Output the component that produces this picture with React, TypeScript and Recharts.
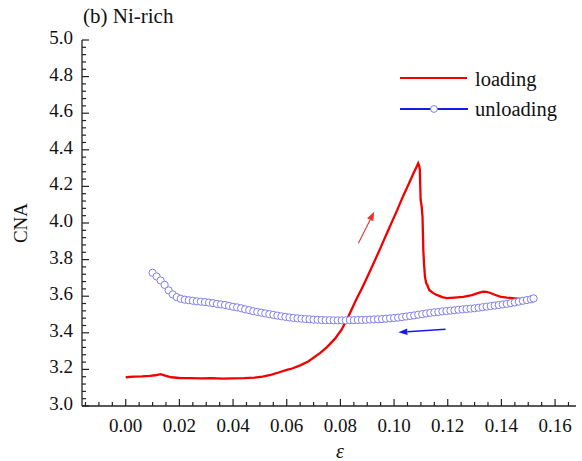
import React from 'react';
import { LineChart, Line, XAxis, YAxis, ReferenceLine } from 'recharts';

const FONT = 'Liberation Serif';

// loading curve (red line)
const loadingStrain = [
  0.0, 0.003, 0.006, 0.009, 0.011, 0.013, 0.015, 0.017, 0.02, 0.024, 0.028, 0.032, 0.036, 0.04,
  0.044, 0.048, 0.051, 0.054, 0.057, 0.06, 0.062, 0.065, 0.068, 0.0725, 0.075, 0.078, 0.0805,
  0.083, 0.086, 0.088, 0.0898, 0.0922, 0.0947, 0.0972, 0.101, 0.1034, 0.1055, 0.1072, 0.1085,
  0.109, 0.1094, 0.1096, 0.1099, 0.1103, 0.1106, 0.1109, 0.1112, 0.1115, 0.112, 0.1124, 0.1131,
  0.1145, 0.1159, 0.118, 0.1196, 0.1225, 0.1258, 0.129, 0.1315, 0.1332, 0.1345, 0.1357, 0.1375,
  0.1395, 0.142, 0.145, 0.1481, 0.15,
];
const loadingCna = [
  3.157, 3.16, 3.162, 3.165, 3.168, 3.174, 3.165, 3.157, 3.153, 3.152, 3.151, 3.152, 3.15, 3.151,
  3.152, 3.155, 3.16, 3.17, 3.183, 3.197, 3.205, 3.222, 3.243, 3.29, 3.322, 3.368, 3.418,
  3.49, 3.585, 3.642, 3.698, 3.774, 3.856, 3.94, 4.065, 4.148, 4.215, 4.27, 4.31,
  4.326, 4.31, 4.29, 4.126, 4.09, 4.034, 3.852, 3.77, 3.707, 3.67, 3.661, 3.634,
  3.618, 3.607, 3.595, 3.589, 3.592, 3.596, 3.606, 3.618, 3.625, 3.624, 3.619, 3.608,
  3.598, 3.592, 3.588, 3.584, 3.582,
];

// unloading curve (open circles)
const unloadingStrain = [
  0.01, 0.0115, 0.013, 0.0145, 0.016, 0.0175, 0.019, 0.0205, 0.022, 0.0235, 0.025, 0.0265, 0.028,
  0.0295, 0.031, 0.0325, 0.034, 0.0355, 0.037, 0.0385, 0.04, 0.0415, 0.043, 0.0445, 0.046, 0.0475,
  0.049, 0.0505, 0.052, 0.0535, 0.055, 0.0565, 0.058, 0.0595, 0.061, 0.0625, 0.064, 0.0655, 0.067,
  0.0685, 0.07, 0.0715, 0.073, 0.0745, 0.076, 0.0775, 0.079, 0.0805, 0.082, 0.0835, 0.085, 0.0865,
  0.088, 0.0895, 0.091, 0.0925, 0.094, 0.0955, 0.097, 0.0985, 0.1, 0.1015, 0.103, 0.1045, 0.106,
  0.1075, 0.109, 0.1105, 0.112, 0.1135, 0.115, 0.1165, 0.118, 0.1195, 0.121, 0.1225, 0.124,
  0.1255, 0.127, 0.1285, 0.13, 0.1315, 0.133, 0.1345, 0.136, 0.1375, 0.139, 0.1405, 0.142, 0.1435,
  0.145, 0.1465, 0.148, 0.1495, 0.151, 0.152,
];
const unloadingCna = [
  3.728, 3.708, 3.686, 3.662, 3.632, 3.61, 3.595, 3.586, 3.581, 3.578, 3.575, 3.572, 3.57,
  3.568, 3.565, 3.562, 3.558, 3.555, 3.552, 3.547, 3.542, 3.539, 3.534, 3.528, 3.524, 3.518,
  3.514, 3.51, 3.506, 3.502, 3.498, 3.494, 3.49, 3.487, 3.484, 3.481, 3.479, 3.477, 3.475,
  3.474, 3.472, 3.471, 3.47, 3.469, 3.469, 3.468, 3.468, 3.468, 3.468, 3.469, 3.469, 3.47,
  3.47, 3.471, 3.472, 3.473, 3.474, 3.475, 3.477, 3.479, 3.481, 3.483, 3.486, 3.489, 3.492,
  3.495, 3.499, 3.502, 3.506, 3.509, 3.512, 3.514, 3.517, 3.519, 3.521, 3.523, 3.526,
  3.528, 3.53, 3.532, 3.534, 3.537, 3.54, 3.543, 3.546, 3.549, 3.552, 3.555, 3.558, 3.562,
  3.566, 3.57, 3.575, 3.579, 3.583, 3.588,
];

// direction arrows [tail, head]
const loadingArrow = [{ x: 0.0867, y: 3.889 }, { x: 0.0926, y: 4.062 }];
const unloadingArrow = [{ x: 0.1192, y: 3.419 }, { x: 0.1016, y: 3.403 }];

const xMajorTicks = [0, 0.02, 0.04, 0.06, 0.08, 0.1, 0.12, 0.14, 0.16];
const yMajorTicks = [3.0, 3.2, 3.4, 3.6, 3.8, 4.0, 4.2, 4.4, 4.6, 4.8, 5.0];
const xDomain = [-0.0163, 0.1678];
const yDomain = [3, 5];

const xAllTicks: number[] = [];
for (let i = -3; i <= 33; i++) xAllTicks.push(Math.round(i * 5) / 1000);
const yAllTicks: number[] = [];
for (let i = 0; i <= 50; i++) yAllTicks.push(Math.round((3 + i * 0.04) * 100) / 100);

const isMajor = (v: number, majors: number[]) => majors.some((m) => Math.abs(m - v) < 1e-6);

const loadingData = loadingStrain.map((x, i) => ({ x, y: loadingCna[i] }));
const unloadingData = unloadingStrain.map((x, i) => ({ x, y: unloadingCna[i] }));

const AXIS = '#222';
const txt = { fontFamily: FONT } as React.CSSProperties;

function XTick({ x, y, payload }: any) {
  const major = isMajor(payload.value, xMajorTicks);
  return (
    <g>
      <line x1={x} x2={x} y1={y} y2={y - (major ? 7 : 4)} stroke={AXIS} strokeWidth={1.2} />
      {major && (
        <text x={x} y={y + 26} textAnchor="middle" fontSize={19} style={txt} fill="#111">
          {payload.value.toFixed(2)}
        </text>
      )}
    </g>
  );
}

function YTick({ x, y, payload }: any) {
  const major = isMajor(payload.value, yMajorTicks);
  return (
    <g>
      <line x1={x} x2={x + (major ? 7 : 4)} y1={y} y2={y} stroke={AXIS} strokeWidth={1.2} />
      {major && (
        <text x={x - 9} y={y + 4} textAnchor="end" fontSize={19} style={txt} fill="#111">
          {payload.value.toFixed(1)}
        </text>
      )}
    </g>
  );
}

function makeArrow(color: string, width: number, headLen: number, headHalf: number) {
  return (props: any) => {
    const { x1, y1, x2, y2 } = props;
    const dx = x2 - x1;
    const dy = y2 - y1;
    const len = Math.sqrt(dx * dx + dy * dy) || 1;
    const ux = dx / len;
    const uy = dy / len;
    const bx = x2 - ux * headLen;
    const by = y2 - uy * headLen;
    const pts = `${x2},${y2} ${bx - uy * headHalf},${by + ux * headHalf} ${bx + uy * headHalf},${by - ux * headHalf}`;
    return (
      <g>
        <line x1={x1} y1={y1} x2={bx} y2={by} stroke={color} strokeWidth={width} />
        <polygon points={pts} fill={color} />
      </g>
    );
  };
}

export default function App() {
  return (
    <div style={{ position: 'absolute', left: 0, top: 0, width: 582, height: 461, background: '#fff', fontFamily: FONT }}>
      <LineChart
        width={582}
        height={461}
        margin={{ top: 40, right: 6, bottom: 0, left: 0 }}
      >
        <XAxis
          dataKey="x"
          type="number"
          domain={xDomain}
          allowDataOverflow
          ticks={xAllTicks}
          interval={0}
          height={55}
          tickSize={0}
          tickMargin={0}
          tickLine={false}
          axisLine={{ stroke: AXIS, strokeWidth: 1.3 }}
          tick={(p: any) => <XTick {...p} />}
          label={(p: any) => {
            const vb = p.viewBox || { x: 82, width: 494 };
            return (
              <text x={vb.x + vb.width / 2 + 11} y={458} textAnchor="middle" fontSize={20} fontStyle="italic" style={txt} fill="#111">
                ε
              </text>
            );
          }}
        />
        <XAxis
          xAxisId="top"
          orientation="top"
          dataKey="x"
          type="number"
          domain={xDomain}
          allowDataOverflow
          height={0}
          tick={false}
          tickLine={false}
          axisLine={{ stroke: AXIS, strokeWidth: 1.3 }}
        />
        <YAxis
          type="number"
          domain={yDomain}
          allowDataOverflow
          ticks={yAllTicks}
          interval={0}
          width={82}
          tickSize={0}
          tickMargin={0}
          tickLine={false}
          axisLine={{ stroke: AXIS, strokeWidth: 1.3 }}
          tick={(p: any) => <YTick {...p} />}
          label={(p: any) => {
            const vb = p.viewBox || { y: 40, height: 366 };
            const cy = vb.y + vb.height / 2;
            return (
              <text x={27} y={cy} transform={`rotate(-90 27 ${cy})`} textAnchor="middle" fontSize={19} style={txt} fill="#111">
                CNA
              </text>
            );
          }}
        />
        <YAxis
          yAxisId="right"
          orientation="right"
          type="number"
          domain={yDomain}
          allowDataOverflow
          width={0}
          tick={false}
          tickLine={false}
          axisLine={{ stroke: AXIS, strokeWidth: 1.3 }}
        />
        <Line
          data={unloadingData}
          dataKey="y"
          type="linear"
          stroke="none"
          dot={{ r: 3.6, stroke: '#8080ea', strokeWidth: 1, fill: '#fff' }}
          activeDot={false}
          isAnimationActive={false}
        />
        <Line
          data={loadingData}
          dataKey="y"
          type="linear"
          stroke="#f20000"
          strokeWidth={2.3}
          dot={false}
          activeDot={false}
          isAnimationActive={false}
        />
        <ReferenceLine segment={loadingArrow} shape={makeArrow('#f03030', 1.1, 9, 3.5)} ifOverflow="visible" />
        <ReferenceLine segment={unloadingArrow} shape={makeArrow('#1a1ae6', 1.4, 9, 3.2)} ifOverflow="visible" />
      </LineChart>
      <svg width={582} height={461} style={{ position: 'absolute', left: 0, top: 0, pointerEvents: 'none' }}>
        <text x={83} y={23} fontSize={21} style={txt} fill="#111">(b) Ni-rich</text>
        <line x1={400} x2={467} y1={78} y2={78} stroke="#f20000" strokeWidth={2.2} />
        <text x={475} y={86} fontSize={20.5} style={txt} fill="#111">loading</text>
        <line x1={400} x2={468} y1={109} y2={109} stroke="#1a1ae6" strokeWidth={2} />
        <circle cx={434} cy={109} r={3.4} stroke="#8080ea" strokeWidth={1} fill="#fff" />
        <text x={475} y={116} fontSize={20.5} style={txt} fill="#111">unloading</text>
      </svg>
    </div>
  );
}
